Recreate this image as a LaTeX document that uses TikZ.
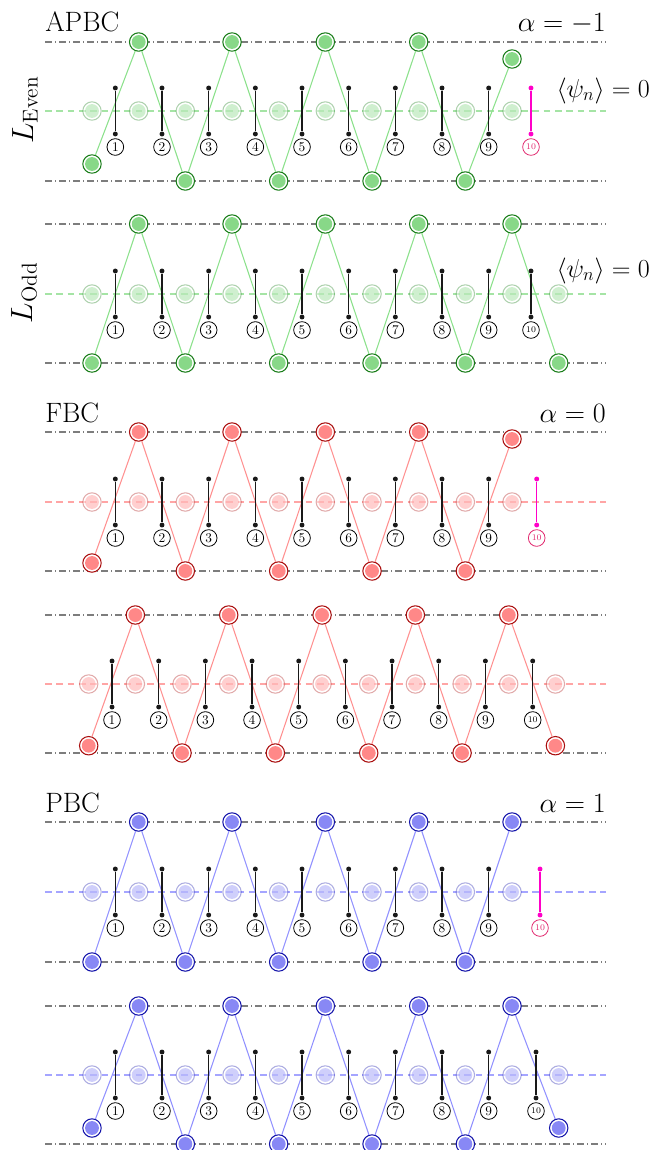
\RequirePackage{fix-cm}
\documentclass[tikz,border=0pt]{standalone}
\usetikzlibrary{calc}

% colour themes: D = ring, F = site fill, L = zigzag, A = middle axis
\definecolor{gD}{RGB}{25,125,25}
\definecolor{gF}{RGB}{136,216,136}
\definecolor{gL}{RGB}{140,225,140}
\definecolor{gA}{RGB}{165,228,165}
\definecolor{rD}{RGB}{170,15,15}
\definecolor{rF}{RGB}{255,136,136}
\definecolor{rL}{RGB}{255,145,145}
\definecolor{rA}{RGB}{255,165,165}
\definecolor{bD}{RGB}{20,20,170}
\definecolor{bF}{RGB}{136,136,245}
\definecolor{bL}{RGB}{145,145,255}
\definecolor{bA}{RGB}{165,165,255}
\definecolor{bondcol}{RGB}{25,25,25}
\definecolor{pinkbar}{RGB}{255,0,200}
\definecolor{pinklab}{RGB}{225,40,110}
\definecolor{railcol}{RGB}{125,125,125}

\tikzset{
  rail/.style={draw=railcol, line width=0.85pt, dash pattern=on 5.5pt off 2pt on 1pt off 2pt},
  midline/.style={draw=#1A, line width=0.85pt, dash pattern=on 5pt off 3.5pt},
  site/.style={circle, inner sep=0pt, minimum size=13.8pt, line width=0.8pt,
    draw=#1D, fill=white,
    path picture={\fill[#1F] (path picture bounding box.center) circle (5.2pt);}},
  ghost/.style={circle, inner sep=0pt, minimum size=13.8pt, line width=0.8pt,
    draw=#1D, draw opacity=.35, fill=white, fill opacity=.5,
    path picture={\fill[#1F, fill opacity=.4] (path picture bounding box.center) circle (5.2pt);}},
  zig/.style={draw=#1L, line width=0.8pt},
  bonddot/.style={circle, inner sep=0pt, minimum size=3.7pt},
  bondbar/.style={line width=1pt},
  sitenum/.style={circle, draw=black, line width=0.6pt, minimum size=12.5pt, inner sep=0pt,
    fill=white, font=\fontsize{10}{10}\selectfont},
  numten/.style={sitenum, font=\fontsize{6.5}{7}\selectfont},
  numpink/.style={numten, draw=pinklab, text=pinklab},
  title/.style={inner sep=0pt, font=\fontsize{21}{25}\selectfont},
  psilab/.style={inner sep=0pt, font=\fontsize{19.5}{23}\selectfont},
  sidelab/.style={inner sep=0pt, font=\fontsize{23}{27}\selectfont, rotate=90, anchor=base},
}

% one bond: two end dots, the bar between them and the site number below
\newcommand\bond[6]{%
  \node[bonddot, fill=#5] (#1-u#2) at (#3,#4-23) {};
  \node[bonddot, fill=#5] (#1-d#2) at (#3,#4+23) {};
  \draw[bondbar, draw=#5] (#1-u#2) -- (#1-d#2);
  \node[#6] (#1-n#2) at (#3,#4+36) {#2};
}

% one chain: #1 name, #2 theme, #3 first x, #4 top, #5 middle, #6 bottom,
% #7 last site index, #8 y of first site, #9 y of last site
\newcommand\chainpanel[9]{%
  \coordinate (#1-tl) at (45,#4);  \coordinate (#1-tr) at (606,#4);
  \coordinate (#1-ml) at (45,#5);  \coordinate (#1-mr) at (606,#5);
  \coordinate (#1-bl) at (45,#6);  \coordinate (#1-br) at (606,#6);
  \draw[rail] (#1-tl) -- (#1-tr);
  \draw[rail] (#1-bl) -- (#1-br);
  \draw[midline=#2] (#1-ml) -- (#1-mr);
  \foreach \k in {0,...,#7}{%
    \pgfmathsetmacro\sx{#3+46.67*\k}
    \node[ghost=#2] (#1-g\k) at (\sx,#5) {};
  }
  \pgfmathtruncatemacro\penult{#7-1}
  \node[site=#2] (#1-s0) at (#3,#8) {};
  \foreach \k in {1,...,\penult}{%
    \pgfmathsetmacro\sx{#3+46.67*\k}
    \ifodd\k \def\sy{#4}\else \def\sy{#6}\fi
    \node[site=#2] (#1-s\k) at (\sx,\sy) {};
  }
  \pgfmathsetmacro\sx{#3+46.67*#7}
  \node[site=#2] (#1-s#7) at (\sx,#9) {};
  \foreach \k [evaluate=\k as \j using int(\k+1)] in {0,...,\penult}{%
    \draw[zig=#2] (#1-s\k) -- (#1-s\j);
  }
  \foreach \k in {1,...,9}{%
    \pgfmathsetmacro\bx{#3+46.67*(\k-0.5)}
    \bond{#1}{\k}{\bx}{#5}{bondcol}{sitenum}
  }
}

\begin{document}
\begin{tikzpicture}[x=0.75pt, y=-0.75pt]
\useasboundingbox (0,0) rectangle (654,1150);

% anti-periodic boundary conditions
\node[title, anchor=base west] (tA) at (45,31) {APBC};
\node[title, anchor=base east] (aA) at (606,31) {$\alpha=-1$};
\chainpanel{A1}{g}{92}{42}{111}{181}{9}{164}{59}
\bond{A1}{10}{531}{111}{pinkbar}{numpink}
\node[psilab, anchor=base east] (psiA1) at (650,97) {$\langle\psi_n\rangle=0$};
\node[sidelab] (LE) at (33,110) {$L_{\mathrm{Even}}$};

\chainpanel{A2}{g}{92}{224}{294}{363}{10}{363}{363}
\bond{A2}{10}{531}{294}{bondcol}{numten}
\node[psilab, anchor=base east] (psiA2) at (650,277) {$\langle\psi_n\rangle=0$};
\node[sidelab] (LO) at (32,293) {$L_{\mathrm{Odd}}$};

% free boundary conditions
\node[title, anchor=base west] (tF) at (45,422) {FBC};
\node[title, anchor=base east] (aF) at (606,422.5) {$\alpha=0$};
\chainpanel{F1}{r}{92}{432}{502}{571}{9}{563}{439}
\bond{F1}{10}{536.7}{502}{pinkbar}{numpink}

\chainpanel{F2}{r}{88.7}{615}{684}{753}{10}{745.7}{745.7}
\bond{F2}{10}{532.7}{684}{bondcol}{numten}

% periodic boundary conditions
\node[title, anchor=base west] (tP) at (45,812) {PBC};
\node[title, anchor=base east] (aP) at (606,812.5) {$\alpha=1$};
\chainpanel{P1}{b}{92}{822}{892}{962}{9}{962}{822}
\bond{P1}{10}{540}{892}{pinkbar}{numpink}

\chainpanel{P2}{b}{92}{1006}{1075}{1144}{10}{1128}{1128}
\bond{P2}{10}{536}{1075}{bondcol}{numten}
\end{tikzpicture}
\end{document}
